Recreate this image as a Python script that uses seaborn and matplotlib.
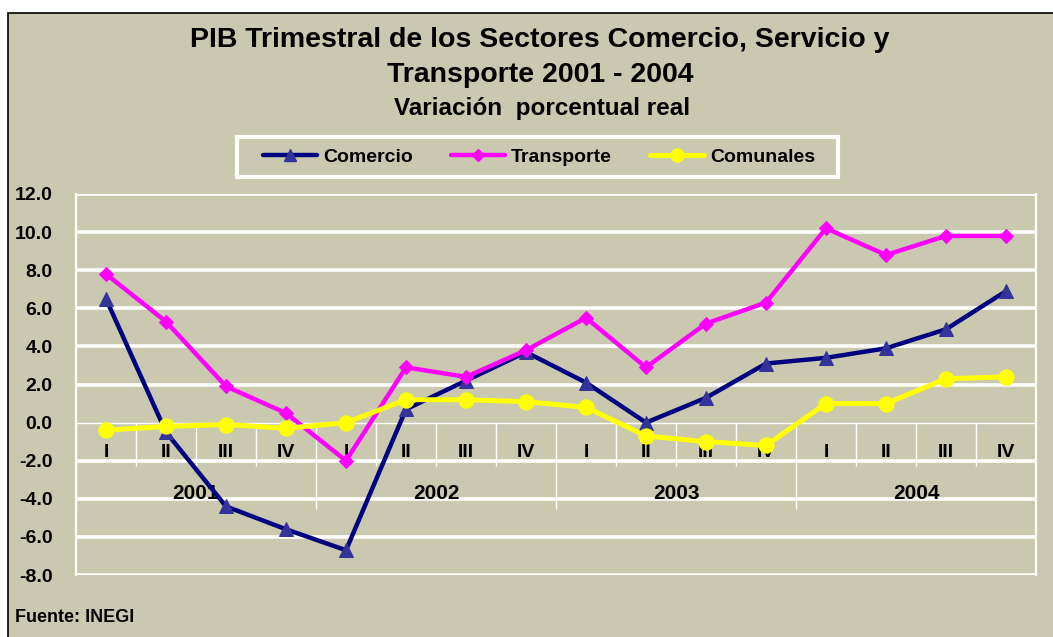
import matplotlib
matplotlib.use("Agg")
import matplotlib.pyplot as plt
import seaborn as sns
import pandas as pd
from matplotlib.patches import Rectangle
from matplotlib.lines import Line2D

# ---- data ----
quarters = ["I", "II", "III", "IV"] * 4
years = ["2001", "2002", "2003", "2004"]
comercio = [6.5, -0.5, -4.4, -5.6, -6.7, 0.7, 2.2, 3.7, 2.1, 0.0, 1.3, 3.1, 3.4, 3.9, 4.9, 6.9]
transporte = [7.8, 5.3, 1.9, 0.5, -2.0, 2.9, 2.4, 3.8, 5.5, 2.9, 5.2, 6.3, 10.2, 8.8, 9.8, 9.8]
comunales = [-0.4, -0.2, -0.1, -0.3, 0.0, 1.2, 1.2, 1.1, 0.8, -0.7, -1.0, -1.2, 1.0, 1.0, 2.3, 2.4]
series_names = ["Comercio", "Transporte", "Comunales"]
yticks = [-8, -6, -4, -2, 0, 2, 4, 6, 8, 10, 12]
ytick_labels = ["-8.0", "-6.0", "-4.0", "-2.0", "0.0", "2.0", "4.0", "6.0", "8.0", "10.0", "12.0"]
title1 = "PIB Trimestral de los Sectores Comercio, Servicio y"
title2 = "Transporte 2001 - 2004"
subtitle = "Variación  porcentual real"
source = "Fuente: INEGI"

BG = "#CAC9B0"
W, H = 1053, 637

sns.set_style("white")
plt.rcParams["font.family"] = ["Liberation Sans", "DejaVu Sans"]
plt.rcParams["font.weight"] = "bold"
plt.rcParams["text.color"] = "black"
plt.rcParams["ytick.labelcolor"] = "black"

fig = plt.figure(figsize=(W / 100, H / 100), dpi=100)
fig.patch.set_facecolor("white")
fig.add_artist(Rectangle((8 / W, -0.01), 1.02, 1 - 13 / H + 0.01, transform=fig.transFigure,
                         facecolor=BG, edgecolor="black", linewidth=1.2, zorder=0))

left, right = 76 / W, 1036 / W
top, bottom = 1 - 194 / H, 1 - 575 / H
ax = fig.add_axes([left, bottom, right - left, top - bottom])
ax.set_facecolor(BG)

df = pd.DataFrame({
    "pos": list(range(16)) * 3,
    "valor": comercio + transporte + comunales,
    "serie": [s for s in series_names for _ in range(16)],
})

styles = {
    "Comercio": dict(color="#000080", marker="^", mfc="#333399", mec="#333399", ms=10.5, lw=3.2),
    "Transporte": dict(color="#FF00FF", marker="D", mfc="#FF00FF", mec="#FF00FF", ms=7.5, lw=3.2),
    "Comunales": dict(color="#FFFF00", marker="o", mfc="#FFFF00", mec="#FFFF00", ms=11, lw=3.6),
}
for i, s in enumerate(series_names):
    st = styles[s]
    sns.lineplot(data=df[df["serie"] == s], x="pos", y="valor", ax=ax, color=st["color"],
                 marker=st["marker"], markerfacecolor=st["mfc"], markeredgecolor=st["mec"],
                 markersize=st["ms"], linewidth=st["lw"], zorder=5 + i, legend=False)

ax.set_xlim(-0.5, 15.5)
ax.set_ylim(-8, 12)
ax.set_xlabel("")
ax.set_ylabel("")

# gridlines (thick white), zero axis thin
for t in yticks:
    if t != 0:
        ax.axhline(t, color="white", lw=2.6, zorder=1)
ax.axhline(0, color="white", lw=1.0, zorder=1.5)

# category separators
px_per_unit = (575 - 194) / 20
q_len = 43 / px_per_unit
y_len = 86 / px_per_unit
for k in range(16):
    xb = k - 0.5
    if k % 4 == 0:
        ax.vlines(xb, -y_len, 0, color="white", lw=1.0, zorder=1.5)
    else:
        ax.vlines(xb, -q_len, 0, color="white", lw=1.0, zorder=1.5)

for i, q in enumerate(quarters):
    ax.text(i, -30 / px_per_unit, q, ha="center", va="center", fontsize=14, fontweight="bold",
            color="black", zorder=3)
for j, y in enumerate(years):
    ax.text(4 * j + 1.5, -71 / px_per_unit, y, ha="center", va="center", fontsize=15,
            fontweight="bold", color="black", zorder=3)

ax.set_xticks([])
ax.set_yticks(yticks)
ax.set_yticklabels(ytick_labels, fontsize=14, fontweight="bold", color="black")
ax.tick_params(axis="y", direction="out", length=6, width=1, color="white", pad=11, labelcolor="black")
for sp in ["top", "bottom"]:
    ax.spines[sp].set_visible(False)
for sp in ["left", "right"]:
    ax.spines[sp].set_color("white")
    ax.spines[sp].set_linewidth(1.5)

# titles
fig.text(540 / W, 1 - 40 / H, title1, ha="center", va="center", fontsize=20.5, fontweight="bold", color="black")
fig.text(540 / W, 1 - 75 / H, title2, ha="center", va="center", fontsize=20.5, fontweight="bold", color="black")
fig.text(542 / W, 1 - 108 / H, subtitle, ha="center", va="center", fontsize=17.5, fontweight="bold", color="black")

# legend frame
fig.add_artist(Rectangle((237 / W, 1 - 177 / H), 601 / W, 40 / H, transform=fig.transFigure,
                         facecolor=BG, edgecolor="white", linewidth=3, zorder=2))
handles = [Line2D([], [], color=styles[s]["color"], marker=styles[s]["marker"],
                  markerfacecolor=styles[s]["mfc"], markeredgecolor=styles[s]["mec"],
                  markersize=styles[s]["ms"] * 0.85, linewidth=styles[s]["lw"]) for s in series_names]
leg = fig.legend(handles, series_names, loc="center", bbox_to_anchor=(539 / W, 1 - 157 / H),
                 ncol=3, frameon=False, handlelength=2.8, handletextpad=0.3, columnspacing=1.95,
                 borderpad=0.0, prop={"weight": "bold", "size": 14})
leg.set_zorder(3)
for t in leg.get_texts():
    t.set_color("black")

fig.text(15 / W, 1 - 617 / H, source, ha="left", va="center", fontsize=13, fontweight="bold", color="black")

fig.savefig("out.png", dpi=100, facecolor=fig.get_facecolor())
